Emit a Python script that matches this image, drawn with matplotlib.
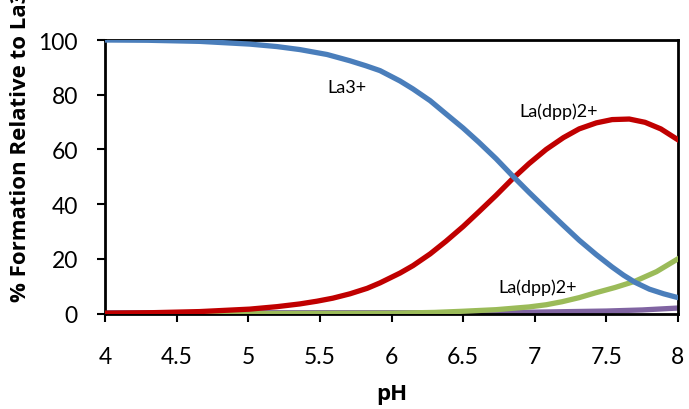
import matplotlib
matplotlib.use("Agg")
import matplotlib.pyplot as plt

plt.rcParams['font.family'] = ['Lato', 'DejaVu Sans']

# Values
ph_la3 = [4.0, 4.3, 4.66, 5.01, 5.2, 5.36, 5.55, 5.71, 5.82, 5.92, 6.06, 6.15, 6.27, 6.38, 6.5,
          6.61, 6.73, 6.84, 6.96, 7.08, 7.2, 7.31, 7.43, 7.54, 7.62, 7.7, 7.8, 7.9, 8.0]
la3 = [100, 99.9, 99.5, 98.5, 97.6, 96.5, 94.7, 92.4, 90.6, 88.8, 85.0, 82.1, 77.8, 73.0, 67.8,
       62.6, 56.6, 50.6, 44.3, 38.2, 32.2, 26.8, 21.5, 17.0, 14.0, 11.4, 8.9, 7.2, 5.8]

ph_dpp = [4.0, 4.33, 4.66, 5.01, 5.2, 5.36, 5.48, 5.59, 5.71, 5.83, 5.92, 6.06, 6.15, 6.27, 6.38,
          6.5, 6.61, 6.73, 6.84, 6.96, 7.08, 7.2, 7.31, 7.43, 7.54, 7.66, 7.77, 7.88, 8.0]
la_dpp = [0.1, 0.3, 0.7, 1.6, 2.5, 3.5, 4.5, 5.6, 7.2, 9.2, 11.2, 14.8, 17.5, 21.8, 26.4,
          31.8, 37.2, 43.2, 49.0, 54.8, 60.0, 64.3, 67.5, 69.7, 70.9, 71.1, 69.9, 67.5, 63.5]

ph_dpp2 = [4.0, 5.0, 6.0, 6.3, 6.49, 6.73, 6.96, 7.08, 7.19, 7.31, 7.42, 7.56, 7.7, 7.85, 8.0]
la_dpp2 = [0.0, 0.0, 0.1, 0.4, 0.8, 1.4, 2.4, 3.2, 4.3, 5.8, 7.5, 9.5, 11.8, 15.3, 20.0]

ph_other = [4.0, 5.0, 6.0, 6.5, 7.0, 7.25, 7.5, 7.75, 8.0]
other = [0.3, 0.3, 0.3, 0.3, 0.5, 0.7, 0.9, 1.3, 2.0]

labels = ["La3+", "La(dpp)2+", "La(dpp)2+"]
xticks = [4, 4.5, 5, 5.5, 6, 6.5, 7, 7.5, 8]
xticklabels = ['4', '4.5', '5', '5.5', '6', '6.5', '7', '7.5', '8']
yticks = [0, 20, 40, 60, 80, 100]

fig = plt.figure(figsize=(6.89, 4.10), dpi=100)
ax = fig.add_axes([105 / 689, 1 - 314.5 / 410, 573 / 689, 273.5 / 410])

lw = 3.8
ax.plot(ph_other, other, color='#8064A2', lw=lw, solid_joinstyle='round', zorder=2)
ax.plot(ph_dpp2, la_dpp2, color='#9BBB59', lw=lw, solid_joinstyle='round', zorder=3)
ax.plot(ph_dpp, la_dpp, color='#C00000', lw=lw, solid_joinstyle='round', zorder=3)
ax.plot(ph_la3, la3, color='#4A7EBB', lw=lw, solid_joinstyle='round', zorder=4)

ax.set_xlim(4, 8)
ax.set_ylim(0, 100)
ax.set_xticks(xticks)
ax.set_xticklabels(xticklabels)
ax.set_yticks(yticks)
ax.tick_params(axis='both', direction='out', length=5.5, width=1.5, labelsize=16.5, colors='black')
ax.tick_params(axis='x', pad=18)
ax.tick_params(axis='y', pad=14)
for s in ax.spines.values():
    s.set_linewidth(2)
    s.set_color('black')

ax.text(5.69, 82.8, labels[0], fontsize=13, ha='center', va='center')
ax.text(7.17, 74.1, labels[1], fontsize=13, ha='center', va='center')
ax.text(7.02, 9.7, labels[2], fontsize=13, ha='center', va='center')

fig.text(0.5 * (105 + 678) / 689, 1 - 400 / 410, 'pH', fontsize=16,
         fontweight='bold', ha='center', va='baseline', family=['Open Sans', 'DejaVu Sans'])
fig.text(26.5 / 689, 1 - 302 / 410, '% Formation Relative to La3+', rotation=90,
         rotation_mode='anchor', fontsize=16, fontweight='bold', ha='left', va='baseline',
         family=['Open Sans', 'DejaVu Sans'])

fig.savefig('out.png', dpi=100)
